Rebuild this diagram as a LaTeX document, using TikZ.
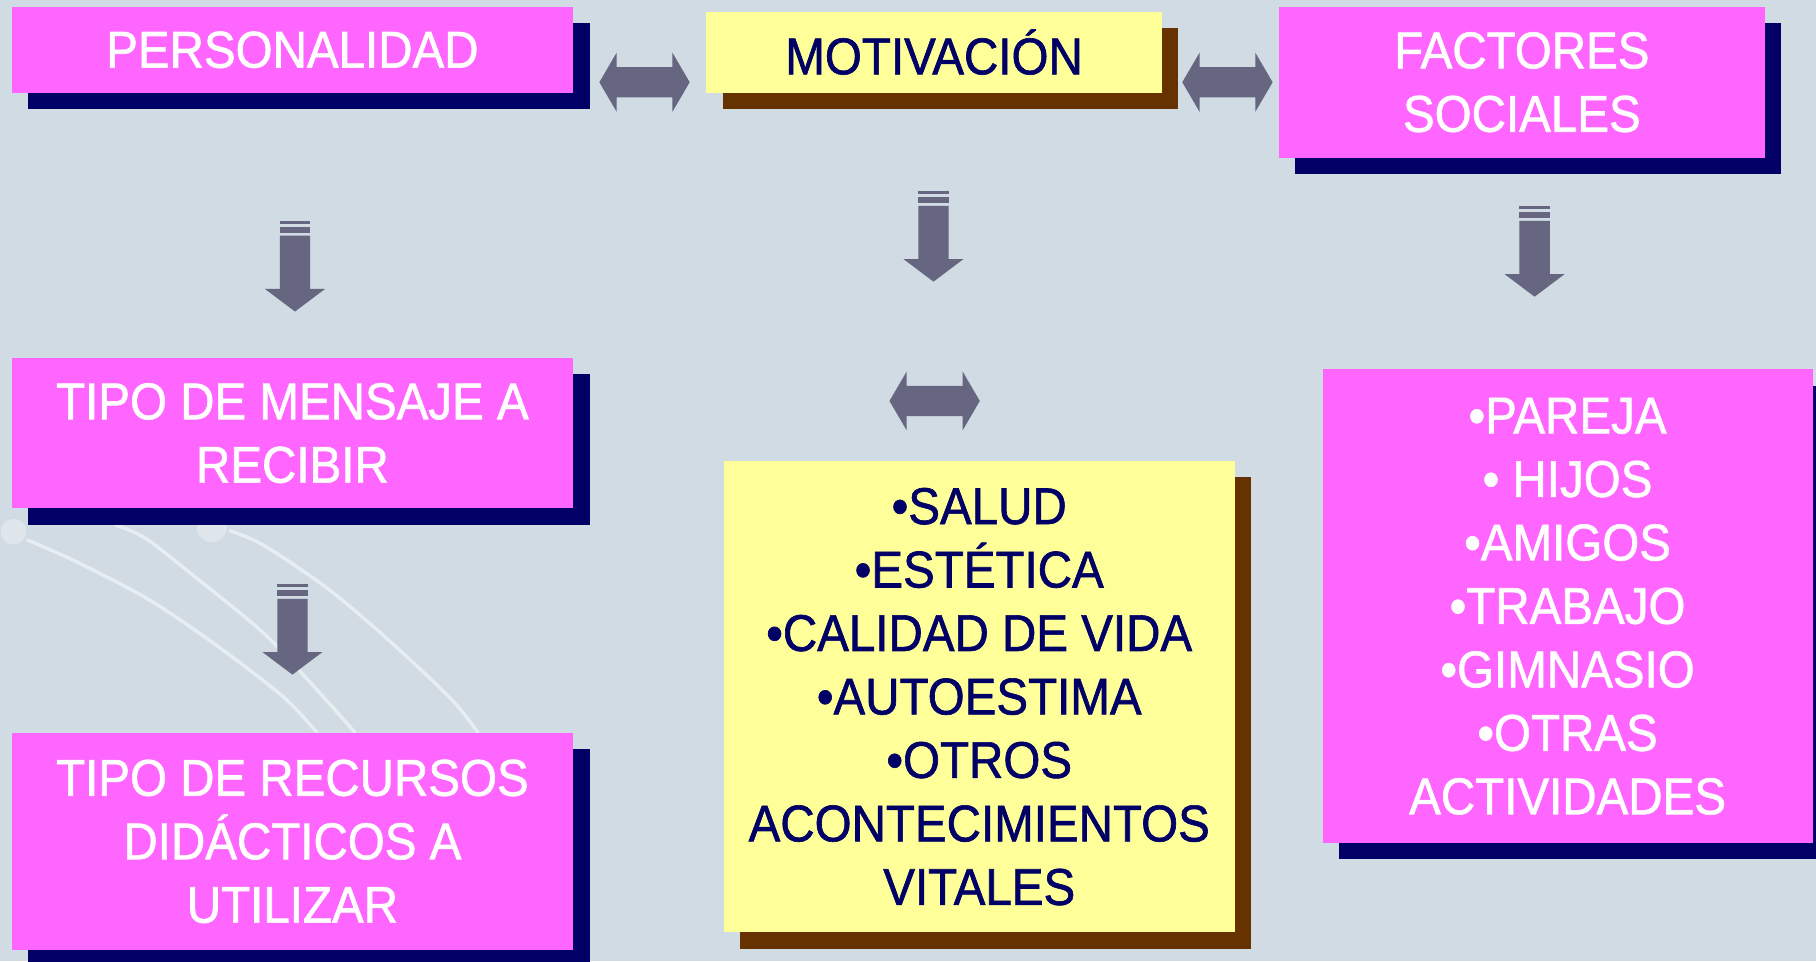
\documentclass[tikz,border=0pt]{standalone}
\usepackage{fontspec}
\setmainfont[FakeStretch=0.92,FakeBold=1.2]{Liberation Sans}
\usetikzlibrary{shadows}
\definecolor{bgc}{RGB}{208,219,227}
\definecolor{pinkc}{RGB}{255,102,255}
\definecolor{yellowc}{RGB}{255,255,153}
\definecolor{navyc}{RGB}{0,0,102}
\definecolor{brownc}{RGB}{102,51,0}
\definecolor{arrowc}{RGB}{102,102,128}
\begin{document}
\begin{tikzpicture}[x=0.5pt,y=-0.5pt,
  box/.style={rectangle, inner sep=0pt, align=center,
    font=\fontsize{22.3pt}{27.4pt}\selectfont},
  pinkbox/.style={box, fill=pinkc, text=white,
    drop shadow={shadow xshift=7pt, shadow yshift=-7pt, fill=navyc, opacity=1}},
  yellowbox/.style={box, fill=yellowc, text=navyc,
    drop shadow={shadow xshift=7pt, shadow yshift=-7pt, fill=brownc, opacity=1}},
  deco/.style={white, opacity=0.5, line width=1.5pt},
  downarr/.pic={
    \fill[arrowc] (-13.1,0) rectangle (13.1,2.6);
    \fill[arrowc] (-13.1,5.2) rectangle (13.1,10.2);
    \fill[arrowc] (-13.1,12.7) -- (13.1,12.7) -- (13.1,58.7) -- (25.9,58.7)
      -- (0,78.2) -- (-25.9,58.7) -- (-13.1,58.7) -- cycle;
  },
  dblarr/.pic={
    \fill[arrowc] (-39,0) -- (-24.1,-25.5) -- (-24.1,-13) -- (24.1,-13)
      -- (24.1,-25.5) -- (39,0) -- (24.1,25.5) -- (24.1,13) -- (-24.1,13)
      -- (-24.1,25.5) -- cycle;
  }
]
\useasboundingbox (0,0) rectangle (1568,830);
\fill[bgc] (0,0) rectangle (1568,830);

% background decoration
\draw[deco] plot[smooth] coordinates {(23,466) (66,485) (129,518) (188,558) (245,602) (274,633)};
\draw[deco] plot[smooth] coordinates {(99,453) (126,465) (172,501) (228,547) (274,596) (307,633)};
\draw[deco] plot[smooth] coordinates {(198,458) (228,471) (284,509) (337,554) (390,604) (413,633)};
\fill[white, opacity=0.35] (11.6,459) circle[radius=5.5pt];
\fill[white, opacity=0.35] (183,455) circle[radius=6.5pt];

% boxes
\node[pinkbox, minimum width=242.5pt, minimum height=37pt] (pers) at (252.5,43) {PERSONALIDAD};
\node[yellowbox, minimum width=196.5pt, minimum height=35pt] (motiv) at (806.5,45) {MOTIVACIÓN};
\node[pinkbox, minimum width=210pt, minimum height=65pt] (fact) at (1314,71) {FACTORES\\SOCIALES};
\node[pinkbox, minimum width=242.5pt, minimum height=65pt] (mensaje) at (252.5,374) {TIPO DE MENSAJE A\\RECIBIR};
\node[pinkbox, minimum width=242.5pt, minimum height=93.5pt] (recursos) at (252.5,726.5) {TIPO DE RECURSOS\\DIDÁCTICOS A\\UTILIZAR};
\node[yellowbox, minimum width=220.5pt, minimum height=203.5pt] (aspectos) at (845.5,601.5)
  {•SALUD\\•ESTÉTICA\\•CALIDAD DE VIDA\\•AUTOESTIMA\\•OTROS\\ACONTECIMIENTOS\\VITALES};
\node[pinkbox, minimum width=211.5pt, minimum height=204.5pt] (ambitos) at (1353.5,523.5)
  {•PAREJA\\• HIJOS\\•AMIGOS\\•TRABAJO\\•GIMNASIO\\•OTRAS\\ACTIVIDADES};

% block arrows
\pic at (556.5,71) {dblarr};
\pic at (1059.8,71) {dblarr};
\pic at (807,346.2) {dblarr};
\pic at (254.7,190.8) {downarr};
\pic at (806,165) {downarr};
\pic at (1325,178) {downarr};
\pic at (252.5,504.3) {downarr};
\end{tikzpicture}
\end{document}
